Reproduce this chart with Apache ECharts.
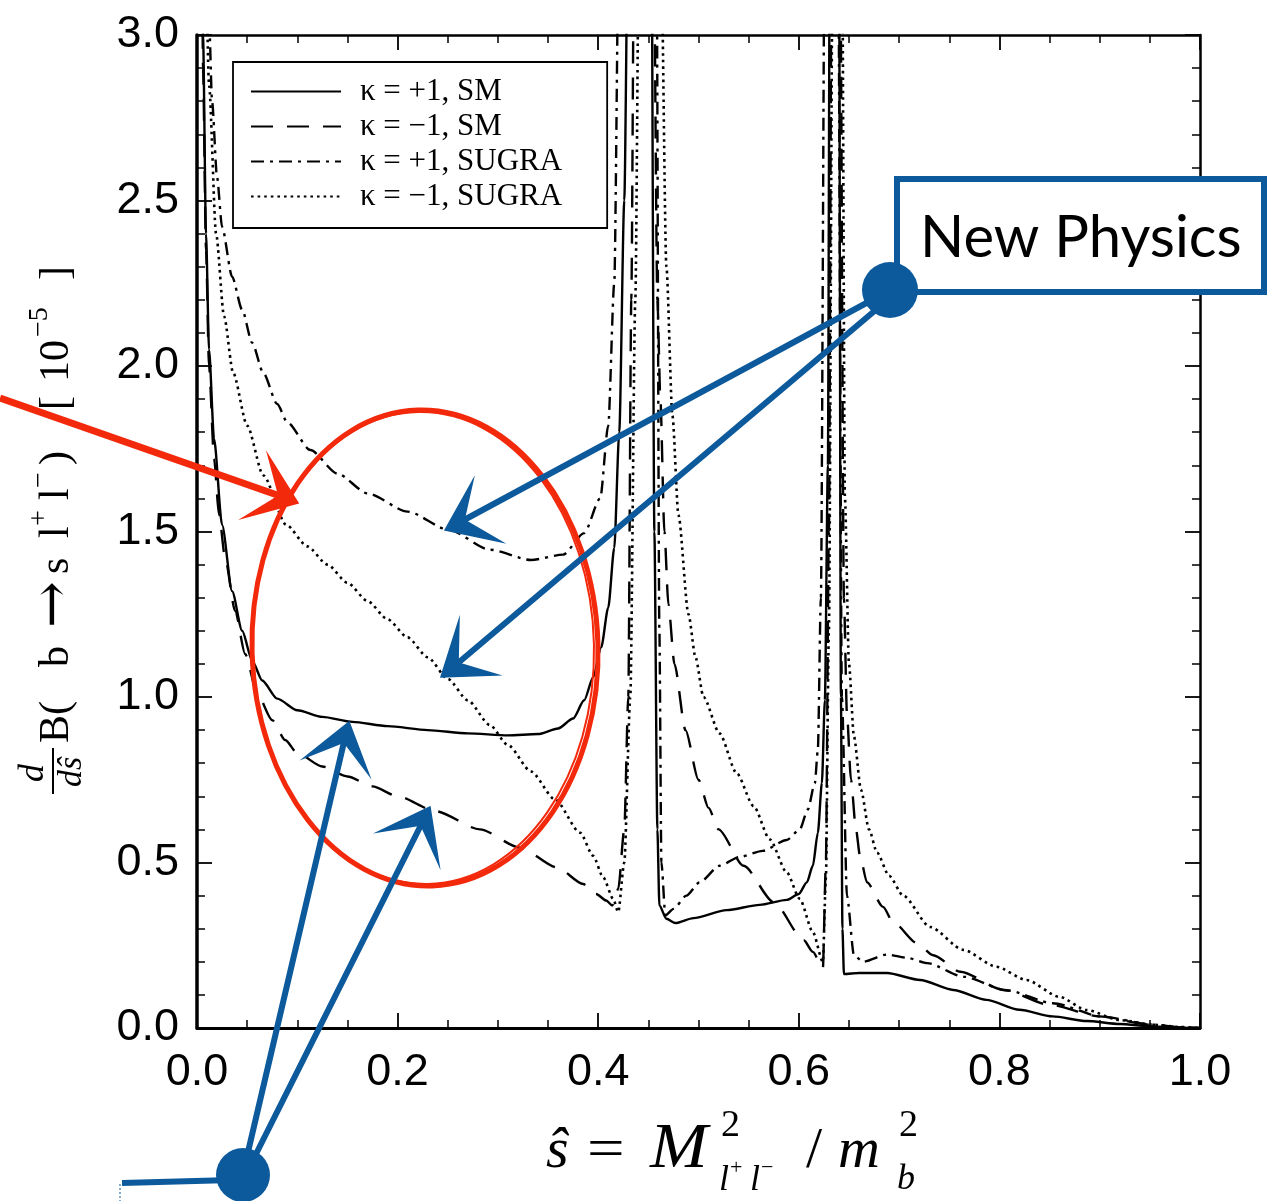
<!DOCTYPE html>
<html><head><meta charset="utf-8">
<script src="https://cdn.jsdelivr.net/npm/echarts@6/dist/echarts.min.js"></script>
<style>html,body{margin:0;padding:0;background:#fff}#c{width:1276px;height:1201px}</style>
</head><body><div id="c"></div>
<script>
// ---- Data: [s_hat, dB/ds (10^-5)] ----
const seriesNames = ['κ = +1, SM', 'κ = −1, SM', 'κ = +1, SUGRA', 'κ = −1, SUGRA'];
const xTicks = [0.0, 0.2, 0.4, 0.6, 0.8, 1.0];
const yTicks = [0.0, 0.5, 1.0, 1.5, 2.0, 2.5, 3.0];

const smPlus = [[0.003,5.5],[0.006,3.0],[0.009,2.4],[0.012,2.05],[0.017,1.78],[0.025,1.52],[0.035,1.32],[0.045,1.2],[0.055,1.11],[0.065,1.05],[0.08,0.995],[0.1,0.96],[0.125,0.94],[0.155,0.925],[0.19,0.912],[0.23,0.9],[0.27,0.89],[0.31,0.884],[0.34,0.888],[0.36,0.905],[0.375,0.935],[0.386,0.99],[0.395,1.06],[0.403,1.15],[0.41,1.27],[0.416,1.45],[0.421,1.8],[0.426,2.5],[0.43,3.4],[0.446,8],[0.453,3.4],[0.456,1.5],[0.459,0.6],[0.461,0.37],[0.468,0.33],[0.477,0.317],[0.495,0.332],[0.528,0.356],[0.561,0.372],[0.588,0.387],[0.6,0.405],[0.608,0.44],[0.614,0.49],[0.619,0.59],[0.623,0.74],[0.626,0.99],[0.629,1.7],[0.631,3.4],[0.636,8],[0.64,3.4],[0.642,1.0],[0.6435,0.3],[0.645,0.163],[0.66,0.166],[0.688,0.166],[0.721,0.145],[0.754,0.115],[0.787,0.085],[0.82,0.055],[0.853,0.035],[0.887,0.021],[0.92,0.012],[0.953,0.005],[0.98,0.001],[1.0,0]];

const smMinus = [[0.003,5.2],[0.006,2.9],[0.009,2.35],[0.012,2.0],[0.017,1.72],[0.022,1.55],[0.028,1.42],[0.038,1.26],[0.048,1.13],[0.06,1.01],[0.075,0.93],[0.088,0.87],[0.1,0.83],[0.125,0.79],[0.15,0.76],[0.175,0.73],[0.2,0.7],[0.238,0.655],[0.282,0.6],[0.322,0.545],[0.359,0.485],[0.385,0.435],[0.398,0.405],[0.408,0.385],[0.414,0.37],[0.42,0.42],[0.426,0.6],[0.43,1.0],[0.433,2.2],[0.436,3.4],[0.446,8],[0.455,3.4],[0.459,2.2],[0.462,1.9],[0.466,1.5],[0.47,1.28],[0.476,1.1],[0.487,0.9],[0.5,0.75],[0.51,0.665],[0.52,0.6],[0.545,0.49],[0.575,0.38],[0.605,0.265],[0.614,0.23],[0.624,0.18],[0.627,0.5],[0.63,1.5],[0.633,3.4],[0.637,8],[0.641,3.4],[0.645,1.3],[0.648,0.95],[0.652,0.75],[0.657,0.6],[0.661,0.52],[0.668,0.44],[0.684,0.366],[0.694,0.32],[0.718,0.256],[0.734,0.22],[0.761,0.17],[0.804,0.115],[0.85,0.07],[0.9,0.035],[0.95,0.01],[0.98,0.002],[1.0,0]];

const sugraPlus = [[0.004,5.5],[0.008,3.6],[0.012,3.05],[0.015,2.8],[0.02,2.57],[0.025,2.42],[0.035,2.27],[0.045,2.17],[0.055,2.07],[0.066,1.98],[0.08,1.885],[0.09,1.83],[0.113,1.746],[0.14,1.675],[0.17,1.615],[0.21,1.56],[0.251,1.505],[0.292,1.445],[0.333,1.414],[0.365,1.43],[0.386,1.495],[0.402,1.6],[0.41,1.82],[0.416,2.25],[0.421,3.4],[0.446,8],[0.458,3.4],[0.461,1.2],[0.463,0.5],[0.467,0.34],[0.475,0.36],[0.488,0.4],[0.501,0.44],[0.521,0.49],[0.541,0.517],[0.564,0.535],[0.588,0.568],[0.601,0.6],[0.609,0.66],[0.616,0.74],[0.619,0.84],[0.622,1.3],[0.626,3.4],[0.632,8],[0.639,3.4],[0.643,1.0],[0.648,0.4],[0.655,0.22],[0.664,0.2],[0.688,0.222],[0.708,0.212],[0.728,0.196],[0.764,0.155],[0.807,0.114],[0.853,0.075],[0.903,0.034],[0.953,0.01],[0.98,0.002],[1.0,0]];

const sugraMinus = [[0.004,5.0],[0.008,3.3],[0.012,2.85],[0.019,2.4],[0.027,2.15],[0.036,1.98],[0.05,1.82],[0.066,1.67],[0.089,1.52],[0.11,1.455],[0.13,1.4],[0.15,1.345],[0.17,1.29],[0.19,1.235],[0.21,1.18],[0.23,1.12],[0.25,1.055],[0.27,0.99],[0.292,0.915],[0.31,0.855],[0.333,0.775],[0.357,0.69],[0.382,0.59],[0.395,0.52],[0.405,0.455],[0.415,0.39],[0.42,0.35],[0.426,0.5],[0.432,1.0],[0.437,2.2],[0.441,3.4],[0.448,8],[0.462,3.4],[0.468,2.3],[0.474,1.85],[0.48,1.55],[0.49,1.25],[0.497,1.12],[0.505,1.0],[0.521,0.89],[0.538,0.77],[0.555,0.67],[0.571,0.57],[0.588,0.47],[0.601,0.39],[0.614,0.29],[0.624,0.2],[0.627,0.45],[0.63,1.2],[0.634,3.4],[0.638,8],[0.643,3.4],[0.646,1.6],[0.65,1.1],[0.655,0.88],[0.662,0.72],[0.67,0.6],[0.678,0.53],[0.69,0.46],[0.704,0.4],[0.731,0.305],[0.764,0.236],[0.797,0.185],[0.827,0.145],[0.86,0.094],[0.887,0.054],[0.92,0.024],[0.953,0.01],[0.98,0.003],[1.0,0]];

// ---- Chart ----
const chart = echarts.init(document.getElementById('c'), null, {renderer: 'canvas'});
const SERIF = '"Liberation Serif", "Times New Roman", serif';
const SANS = '"Liberation Sans", Arial, Helvetica, sans-serif';
const BLUE = '#0c5a9c';
const RED = '#f3290c';

function mkSeries(name, data, type, width, z) {
  return {
    name, type: 'line', data, symbol: 'none', showSymbol: false,
    smooth: 0.25, smoothMonotone: 'x', clip: true, z: z,
    color: '#000',
    itemStyle: {color: '#000'},
    lineStyle: {color: '#000', width: width, type: type, cap: 'butt'},
    emphasis: {disabled: true}, animation: false
  };
}

const tickFmt = v => Number(v).toFixed(1);

const axisCommonX = {
  type: 'value', min: xTicks[0], max: xTicks[xTicks.length - 1], interval: 0.2,
  splitLine: {show: false},
  minorTick: {show: true, splitNumber: 4, length: 8, lineStyle: {color: '#000', width: 1.5}},
  axisTick: {show: true, inside: true, length: 15, lineStyle: {color: '#000', width: 1.8}}
};
const axisCommonY = {
  type: 'value', min: yTicks[0], max: yTicks[yTicks.length - 1], interval: 0.5,
  splitLine: {show: false},
  minorTick: {show: true, splitNumber: 5, length: 8, lineStyle: {color: '#000', width: 1.5}},
  axisTick: {show: true, inside: true, length: 15, lineStyle: {color: '#000', width: 1.8}}
};

function arrow(start, tip, b1, inner, b2) {
  return [
    {type: 'line', shape: {x1: start[0], y1: start[1], x2: inner[0], y2: inner[1]},
     style: {stroke: BLUE, lineWidth: 6, lineCap: 'round'}, z: 100},
    {type: 'polygon', shape: {points: [tip, b1, inner, b2]}, style: {fill: BLUE, stroke: BLUE, lineWidth: 1.5}, z: 101}
  ];
}

function ytxt(lx, ly, text, font, align) {
  return {type: 'text', x: lx, y: ly,
    style: {text, font, fill: '#000', align: align || 'left', verticalAlign: 'middle',
            textAlign: align || 'left', textVerticalAlign: 'middle'}};
}

const yTitle = {
  type: 'group', x: 55, y: 800, rotation: Math.PI / 2, z: 50,
  children: [
    ytxt(27, -21, 'd', 'italic 36px ' + SERIF, 'center'),
    {type: 'line', shape: {x1: 6, y1: -2, x2: 52, y2: -2}, style: {stroke: '#000', lineWidth: 2}},
    ytxt(28, 17, 'dŝ', 'italic 34px ' + SERIF, 'center'),
    ytxt(57, 2, 'B(', '42px ' + SERIF),
    ytxt(133, 2, 'b', '42px ' + SERIF),
    ytxt(172, 0, '→', '56px "DejaVu Serif", ' + SERIF),
    ytxt(226, 2, 's', '42px ' + SERIF),
    ytxt(262, 2, 'l', '42px ' + SERIF),
    ytxt(274, -15, '+', '28px ' + SERIF),
    ytxt(300, 2, 'l', '42px ' + SERIF),
    ytxt(312, -15, '−', '28px ' + SERIF),
    ytxt(335, 2, ')', '42px ' + SERIF),
    ytxt(390, 2, '[', '42px ' + SERIF),
    ytxt(418, 2, '10', '42px ' + SERIF),
    ytxt(463, -15, '−5', '28px ' + SERIF),
    ytxt(520, 2, ']', '42px ' + SERIF)
  ]
};

function xt(x, y, text, font, sx) {
  return {type: 'text', x, y, z: 50, scaleX: sx || 1,
    style: {text, font, fill: '#000', align: 'left', verticalAlign: 'middle',
            textAlign: 'left', textVerticalAlign: 'middle'}};
}
const xTitle = [
  xt(546, 1152, 'ŝ', 'italic 58px ' + SERIF),
  xt(587, 1152, '=', '58px ' + SERIF, 1.15),
  xt(650, 1150, 'M', 'italic 64px ' + SERIF, 1.08),
  xt(721, 1126, '2', '38px ' + SERIF),
  xt(719, 1181, 'l', 'italic 36px ' + SERIF),
  xt(730, 1168, '+', '22px ' + SERIF),
  xt(750, 1181, 'l', 'italic 36px ' + SERIF),
  xt(761, 1168, '−', '22px ' + SERIF),
  xt(806, 1152, '/', '58px ' + SERIF),
  xt(838, 1152, 'm', 'italic 58px ' + SERIF),
  xt(899, 1126, '2', '38px ' + SERIF),
  xt(897, 1180, 'b', 'italic 36px ' + SERIF)
];

const annotations = [
  // red ellipse + arrow
  {type: 'ellipse', shape: {cx: 0, cy: 0, rx: 173, ry: 238}, x: 425, y: 648, rotation: 0.03,
   style: {fill: 'none', stroke: RED, lineWidth: 5}, z: 90},
  {type: 'ellipse', shape: {cx: 0, cy: 0, rx: 171, ry: 236}, x: 423, y: 648, rotation: 0.02,
   style: {fill: 'none', stroke: RED, lineWidth: 2}, z: 90},
  {type: 'line', shape: {x1: 0, y1: 398, x2: 280, y2: 496}, style: {stroke: RED, lineWidth: 7}, z: 90},
  {type: 'polygon', shape: {points: [[298, 503], [268, 455], [279, 496], [243, 518]]},
   style: {fill: RED, stroke: RED, lineWidth: 1.5}, z: 91},
  // New Physics box
  {type: 'rect', shape: {x: 897, y: 179, width: 367, height: 113},
   style: {fill: '#fff', stroke: BLUE, lineWidth: 6}, z: 95},
  {type: 'text', x: 920, y: 238, z: 96,
   style: {text: 'New Physics', font: '58px Lato, "Open Sans", sans-serif', fill: '#000',
           align: 'left', verticalAlign: 'middle', textAlign: 'left', textVerticalAlign: 'middle'}},
  ...arrow([872, 300], [445, 530], [473, 480], [464, 520], [502, 542]),
  ...arrow([878, 308], [441, 677], [459, 620], [458, 663], [498, 675]),
  {type: 'circle', shape: {cx: 890, cy: 290, r: 28}, style: {fill: BLUE}, z: 102},
  // bottom-left pointer
  ...arrow([248, 1152], [349, 722], [304, 758], [344, 742], [369, 775]),
  ...arrow([256, 1154], [430, 807], [378, 832], [421, 825], [439, 865]),
  {type: 'line', shape: {x1: 122, y1: 1183, x2: 232, y2: 1180}, style: {stroke: BLUE, lineWidth: 6}, z: 100},
  {type: 'line', shape: {x1: 120, y1: 1184, x2: 120, y2: 1201}, style: {stroke: BLUE, lineWidth: 1, lineDash: [2, 2]}, z: 100},
  {type: 'circle', shape: {cx: 243, cy: 1175, r: 27}, style: {fill: BLUE}, z: 102}
];

const option = {
  backgroundColor: '#fff',
  animation: false,
  color: ['#000', '#000', '#000', '#000'],
  grid: {left: 197, right: 76, top: 35, bottom: 173, containLabel: false},
  legend: {
    orient: 'vertical', left: 233, top: 62,
    padding: [12, 45, 14, 17], itemGap: 0,
    itemWidth: 90, itemHeight: 14,
    backgroundColor: '#fff', borderColor: '#000', borderWidth: 1.8, borderRadius: 0,
    itemStyle: {opacity: 0},
    textStyle: {fontFamily: SERIF, fontSize: 31, color: '#000', lineHeight: 35, padding: [0, 0, 0, 14]},
    selectedMode: false,
    data: seriesNames
  },
  xAxis: [
    Object.assign({}, axisCommonX, {
      position: 'bottom',
      axisLine: {show: true, onZero: false, lineStyle: {color: '#000', width: 3}},
      axisLabel: {show: true, formatter: tickFmt, fontFamily: SANS, fontSize: 45, color: '#000', margin: 22}
    }),
    Object.assign({}, axisCommonX, {
      position: 'top',
      axisLine: {show: true, onZero: false, lineStyle: {color: '#000', width: 2.5}},
      axisLabel: {show: false}
    })
  ],
  yAxis: [
    Object.assign({}, axisCommonY, {
      position: 'left',
      axisLine: {show: true, onZero: false, lineStyle: {color: '#000', width: 3.5}},
      axisLabel: {show: true, formatter: tickFmt, fontFamily: SANS, fontSize: 45, color: '#000', margin: 18}
    }),
    Object.assign({}, axisCommonY, {
      position: 'right',
      axisLine: {show: true, onZero: false, lineStyle: {color: '#000', width: 2.5}},
      axisLabel: {show: false}
    })
  ],
  series: [
    mkSeries(seriesNames[0], smPlus, 'solid', 2.4, 5),
    mkSeries(seriesNames[1], smMinus, [22, 14], 2.4, 4),
    mkSeries(seriesNames[2], sugraPlus, [13, 6, 3, 6], 2.4, 3),
    mkSeries(seriesNames[3], sugraMinus, [2.6, 4], 2.6, 2)
  ],
  graphic: {elements: [yTitle, ...xTitle, ...annotations]}
};
chart.setOption(option);
</script></body></html>
